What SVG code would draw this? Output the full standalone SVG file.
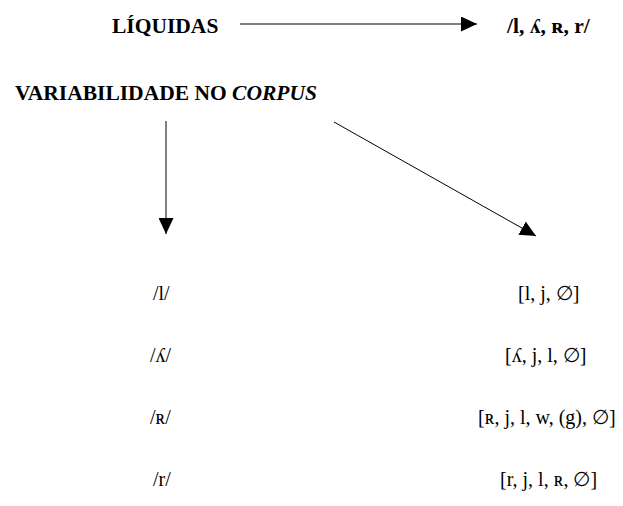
<svg xmlns="http://www.w3.org/2000/svg" width="623" height="506" viewBox="0 0 623 506">
<defs>
<style>
.t{font-family:"Liberation Serif","Times New Roman",serif;fill:#000;}
.h{font-size:21.5px;font-weight:bold;}
.n{font-size:20px;}
.c{stroke:#000;stroke-width:1;fill:none;}
</style>
<marker id="ah" viewBox="0 0 16 15" refX="16" refY="7.5" markerWidth="16" markerHeight="15" markerUnits="userSpaceOnUse" orient="auto">
<path d="M0,0 L16,7.5 L0,15 Z" fill="#000"/>
</marker>
</defs>
<rect width="623" height="506" fill="#fff"/>
<g id="connectors">
<line class="c" x1="240" y1="24" x2="477" y2="24" marker-end="url(#ah)"/>
<line class="c" x1="166" y1="121" x2="166" y2="234" marker-end="url(#ah)"/>
<line class="c" x1="334" y1="122" x2="536" y2="236" marker-end="url(#ah)"/>
</g>
<g id="liquidas"><text class="t h" x="112" y="33">LÍQUIDAS</text></g>
<g id="fonemas"><text class="t h" x="507" y="33">/l, ʎ, ʀ, r/</text></g>
<g id="variabilidade"><text class="t h" x="15" y="100">VARIABILIDADE NO <tspan font-style="italic">CORPUS</tspan></text></g>
<g id="l"><text class="t n" x="153" y="300">/l/</text></g>
<g id="l-var"><text class="t n" x="518" y="300">[l, j, ∅]</text></g>
<g id="lh"><text class="t n" x="150" y="362">/ʎ/</text></g>
<g id="lh-var"><text class="t n" x="505" y="362">[ʎ, j, l, ∅]</text></g>
<g id="R"><text class="t n" x="150" y="424">/ʀ/</text></g>
<g id="R-var"><text class="t n" x="478" y="424">[ʀ, j, l, w, (g), ∅]</text></g>
<g id="r"><text class="t n" x="153" y="486">/r/</text></g>
<g id="r-var"><text class="t n" x="500" y="486">[r, j, l, ʀ, ∅]</text></g>
</svg>
